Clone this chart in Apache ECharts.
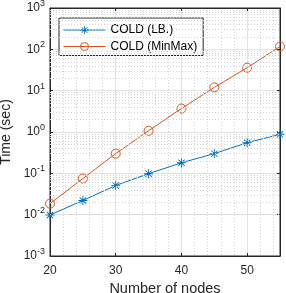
<!DOCTYPE html>
<html><head><meta charset="utf-8">
<script src="https://cdn.jsdelivr.net/npm/echarts@6/dist/echarts.min.js"></script>
<style>html,body{margin:0;padding:0;background:#fff}#c{width:286px;height:293px}</style>
</head><body><div id="c"></div>
<script>
var nodes = [20, 25, 30, 35, 40, 45, 50, 55];
var coldLB = [0.0098, 0.022, 0.051, 0.098, 0.18, 0.30, 0.55, 0.88];
var coldMinMax = [0.0185, 0.075, 0.30, 1.07, 3.7, 12, 36, 117];
var seriesNames = ['COLD (LB.)', 'COLD (MinMax)'];
var xTitle = 'Number of nodes';
var yTitle = 'Time (sec)';
var yDecades = [-3, -2, -1, 0, 1, 2, 3];

var minorVals = [];
for (var d = yDecades[0]; d < yDecades[yDecades.length - 1]; d++) {
  for (var k = 2; k <= 9; k++) minorVals.push(k * Math.pow(10, d));
}
var font = 'Liberation Sans, Arial, Helvetica, sans-serif';
var asterisk = 'path://M-1,-10L1,-10L1,10L-1,10Z M-10,-1L10,-1L10,1L-10,1Z M-7.7,-6.3L-6.3,-7.7L7.7,6.3L6.3,7.7Z M6.3,-7.7L7.7,-6.3L-6.3,7.7L-7.7,6.3Z';

function pair(arr) { return nodes.map(function (x, i) { return [x, arr[i]]; }); }
function supLabel(v) {
  var e = Math.round(Math.log10(v));
  return '{b|10}{s|' + e + '}';
}
var chart = echarts.init(document.getElementById('c'), null, {renderer: 'canvas'});
chart.setOption({
  animation: false,
  textStyle: {fontFamily: font},
  grid: {left: 50, right: 6, top: 8, bottom: 37, containLabel: false, outerBoundsMode: 'none', show: true, borderColor: '#262626', borderWidth: 1, backgroundColor: 'transparent'},
  legend: {
    orient: 'vertical', left: 59, top: 18, itemWidth: 42, itemHeight: 10, itemGap: 4.5,
    padding: [6, 6, 3, 4], borderColor: '#262626', borderWidth: 1, backgroundColor: '#fff',
    textStyle: {fontSize: 12, lineHeight: 12, color: '#000', fontFamily: font},
    itemStyle: {borderWidth: 1},
    lineStyle: {width: 1},
    data: seriesNames
  },
  xAxis: [{
    type: 'value', min: 20, max: 55, interval: 10,
    name: xTitle, nameLocation: 'middle', nameGap: 23,
    nameTextStyle: {fontSize: 14.5, color: '#262626', fontFamily: font},
    axisLine: {show: true, lineStyle: {color: '#262626'}},
    axisTick: {show: true, inside: true, length: 3, lineStyle: {color: '#262626'}},
    axisLabel: {fontSize: 12, color: '#262626', margin: 9, showMaxLabel: false},
    splitLine: {show: true, lineStyle: {color: '#e3e3e3', width: 1}},
    minorTick: {show: false, splitNumber: 5},
    minorSplitLine: {show: true, lineStyle: {color: '#d4d4d4', type: [1, 2], width: 1}}
  }, {
    type: 'value', min: 20, max: 55, interval: 10, position: 'top',
    axisLine: {show: true, lineStyle: {color: '#262626'}},
    axisTick: {show: true, inside: true, length: 3, lineStyle: {color: '#262626'}},
    axisLabel: {show: false}, splitLine: {show: false}
  }],
  yAxis: [{
    type: 'log', logBase: 10, min: 0.001, max: 1000, interval: 1,
    name: yTitle, nameLocation: 'middle', nameGap: 33,
    nameTextStyle: {fontSize: 14, color: '#262626', fontFamily: font},
    axisLine: {show: true, lineStyle: {color: '#262626'}},
    axisTick: {show: true, inside: true, length: 3, lineStyle: {color: '#262626'}},
    axisLabel: {
      color: '#262626', margin: 5, formatter: supLabel,
      rich: {b: {fontSize: 12, color: '#262626', fontFamily: font}, s: {fontSize: 9, color: '#262626', fontFamily: font, padding: [0, 0, 9, 0]}}
    },
    splitLine: {show: true, lineStyle: {color: '#e3e3e3', width: 1}}
  }, {
    type: 'log', logBase: 10, min: 0.001, max: 1000, interval: 1, position: 'right',
    axisLine: {show: true, lineStyle: {color: '#262626'}},
    axisTick: {show: true, inside: true, length: 3, lineStyle: {color: '#262626'}},
    axisLabel: {show: false}, splitLine: {show: false}
  }],
  series: [{
    name: seriesNames[0], type: 'line', data: pair(coldLB), z: 3,
    color: '#0072BD', symbol: asterisk, symbolSize: 9,
    lineStyle: {width: 1, color: '#0072BD'},
    itemStyle: {color: '#0072BD'},
    markLine: {
      silent: true, symbol: ['none', 'none'], label: {show: false}, animation: false,
      lineStyle: {color: '#d4d4d4', type: [1, 2], width: 1},
      data: minorVals.map(function (v) { return {yAxis: v}; })
    }
  }, {
    name: seriesNames[1], type: 'line', data: pair(coldMinMax), z: 3,
    color: '#D95319', symbol: 'circle', symbolSize: 9,
    lineStyle: {width: 1, color: '#D95319'},
    itemStyle: {color: 'rgba(255,255,255,0)', borderColor: '#D95319', borderWidth: 1}
  }]
});
</script></body></html>
